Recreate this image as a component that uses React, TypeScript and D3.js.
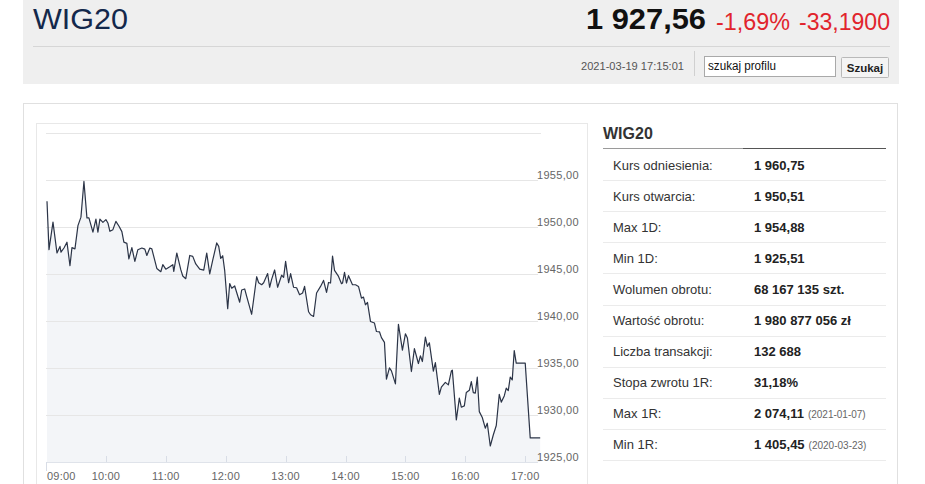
import React from "react";
import * as d3 from "d3";

// minutes after 09:00 and index level
const minutesFromOpen = [
  1, 3, 7, 11, 14, 15, 18, 21, 24, 26, 29, 32, 35, 38, 41, 43, 47, 50, 52, 54,
  57, 60, 62, 64, 67, 70, 73, 76, 78, 81, 83, 86, 89, 92, 96, 99, 101, 104, 106, 111,
  115, 117, 120, 124, 127, 128, 131, 135, 137, 140, 144, 147, 150, 154, 158, 161, 164, 167, 171, 173,
  175, 177, 179, 182, 184, 186, 189, 194, 196, 199, 201, 206, 211, 213, 216, 218, 222, 224, 226, 229,
  232, 236, 238, 240, 243, 245, 248, 251, 254, 257, 259, 263, 265, 268, 271, 275, 278, 281, 283, 285,
  287, 289, 293, 296, 297, 299, 301, 303, 307, 310, 313, 316, 318, 320, 322, 325, 329, 331, 334, 336,
  339, 341, 344, 346, 350, 353, 357, 360, 362, 366, 369, 373, 375, 377, 380, 382, 384, 388, 390, 394,
  396, 400, 403, 406, 407, 411, 414, 416, 419, 421, 424, 426, 428, 430, 432, 434, 437, 440, 442, 445,
  448, 451, 454, 456, 459, 461, 463, 465, 467, 469, 471, 480, 485, 495,
];
const prices = [
  1952.69, 1947.55, 1950.48, 1947.2, 1947.9, 1947.29, 1947.73, 1948.35, 1945.85, 1947.77,
  1947.64, 1950.11, 1951.01, 1954.8, 1950.93, 1950.93, 1949.41, 1950.8, 1949.41, 1950.8,
  1950.45, 1950.74, 1950.39, 1949.5, 1949.68, 1950.56, 1950.07, 1949.47, 1948.35, 1948.22,
  1946.57, 1947.77, 1946.31, 1947.55, 1947.73, 1947.61, 1946.94, 1947.73, 1947.64, 1945.56,
  1945.21, 1945.96, 1945.48, 1945.74, 1945.96, 1945.24, 1947.2, 1945.43, 1944.76, 1944.47,
  1946.94, 1946.84, 1946.04, 1945.48, 1945.39, 1947.2, 1944.98, 1946.44, 1948.27, 1947.9,
  1946.62, 1946.91, 1945.32, 1941.28, 1943.96, 1943.46, 1943.7, 1941.97, 1943.27, 1943.38,
  1942.59, 1940.69, 1944.68, 1944.04, 1943.83, 1944.04, 1945.02, 1943.56, 1944.4, 1945.4,
  1943.56, 1944.84, 1944.61, 1946.31, 1944.04, 1945.02, 1943.56, 1943.51, 1942.77, 1942.95,
  1943.65, 1940.96, 1940.64, 1940.46, 1942.95, 1943.65, 1944.29, 1943.01, 1944.07, 1944.01,
  1946.88, 1945.35, 1944.71, 1943.94, 1944.01, 1945.14, 1944.01, 1944.79, 1943.83, 1943.83,
  1943.65, 1942.41, 1942.52, 1941.7, 1941.95, 1939.93, 1939.76, 1938.86, 1938.83, 1938.21,
  1937.71, 1933.8, 1935.0, 1934.68, 1933.3, 1939.63, 1936.88, 1938.62, 1938.16, 1934.61,
  1937.04, 1935.46, 1936.28, 1935.67, 1938.27, 1937.27, 1937.66, 1934.66, 1935.56, 1932.18,
  1932.95, 1933.46, 1933.19, 1934.66, 1934.76, 1929.47, 1931.78, 1930.82, 1930.96, 1932.39,
  1932.61, 1933.54, 1932.37, 1932.31, 1934.01, 1930.35, 1929.73, 1928.59, 1929.12, 1926.7,
  1927.87, 1928.88, 1932.18, 1931.36, 1932.02, 1932.84, 1932.59, 1934.01, 1933.72, 1936.84,
  1935.5, 1935.5, 1927.56, 1927.56,
];

const hourTicks = [0, 60, 120, 180, 240, 300, 360, 420, 480];
const hourLabels = ["09:00", "10:00", "11:00", "12:00", "13:00", "14:00", "15:00", "16:00", "17:00"];
const gridValues = [1925, 1930, 1935, 1940, 1945, 1950, 1955, 1960];
const priceLabels = ["1925,00", "1930,00", "1935,00", "1940,00", "1945,00", "1950,00", "1955,00", ""];

const statLabels = [
  "Kurs odniesienia:", "Kurs otwarcia:", "Max 1D:", "Min 1D:", "Wolumen obrotu:",
  "Wartość obrotu:", "Liczba transakcji:", "Stopa zwrotu 1R:", "Max 1R:", "Min 1R:",
];
const statValues = [
  "1 960,75", "1 950,51", "1 954,88", "1 925,51", "68 167 135 szt.",
  "1 980 877 056 zł", "132 688", "31,18%", "2 074,11", "1 405,45",
];
const statNotes = ["", "", "", "", "", "", "", "", "(2021-01-07)", "(2020-03-23)"];

const headerName = "WIG20";
const headerPrice = "1 927,56";
const headerPct = "-1,69%";
const headerChange = "-33,1900";
const headerTime = "2021-03-19 17:15:01";

const FONT = "'Liberation Sans', Arial, sans-serif";
const NARROW = "'Liberation Sans Narrow', 'Liberation Sans', Arial, sans-serif";

export default function App() {
  const x = d3.scaleLinear().domain([0, 495]).range([46, 540.2]);
  const y = d3.scaleLinear().domain([1925, 1960]).range([462, 132.5]);
  const pts: [number, number][] = minutesFromOpen.map((m, i) => [m, prices[i]]);
  const linePath = d3
    .line<[number, number]>()
    .x((d) => x(d[0]))
    .y((d) => y(d[1]))(pts) as string;
  const areaPath = d3
    .area<[number, number]>()
    .x((d) => x(d[0]))
    .y0(y(1925))
    .y1((d) => y(d[1]))(pts) as string;
  const crisp = (v: number) => Math.round(v) + 0.5;

  const rowTop = 149;
  const rowH = 31.1;

  return (
    <svg
      width={925}
      height={484}
      style={{ position: "absolute", left: 0, top: 0, background: "#fff" }}
      fontFamily={FONT}
    >
      {/* header band */}
      <rect x={23} y={0} width={876} height={84} fill="#efefef" />
      <text x={33} y={29} fontFamily={NARROW} fontSize={29} fill="#13284b" textLength={95} lengthAdjust="spacingAndGlyphs">
        {headerName}
      </text>
      <text x={586} y={29} fontFamily={NARROW} fontSize={30} fontWeight="bold" fill="#111" textLength={120} lengthAdjust="spacingAndGlyphs">
        {headerPrice}
      </text>
      <text x={716} y={30} fontFamily={NARROW} fontSize={23} fill="#e1242c" textLength={74} lengthAdjust="spacingAndGlyphs">
        {headerPct}
      </text>
      <text x={799} y={30} fontFamily={NARROW} fontSize={23} fill="#e1242c" textLength={91} lengthAdjust="spacingAndGlyphs">
        {headerChange}
      </text>
      <line x1={33} x2={890} y1={46.5} y2={46.5} stroke="#d6d6d6" />
      <text x={581} y={70} fontFamily={NARROW} fontSize={11} fill="#555" textLength={103} lengthAdjust="spacingAndGlyphs">
        {headerTime}
      </text>
      <line x1={694.5} x2={694.5} y1={51} y2={76} stroke="#d0d0d0" />
      <rect x={704.5} y={56.5} width={131} height={20} fill="#fff" stroke="#a9a9a9" />
      <text x={708} y={70} fontFamily={NARROW} fontSize={12} fill="#111" textLength={68} lengthAdjust="spacingAndGlyphs">
        szukaj profilu
      </text>
      <rect x={841.5} y={57.5} width={47} height={20} fill="#f4f4f4" stroke="#b9b9b9" rx={1} />
      <text x={865} y={71.5} fontFamily={NARROW} fontSize={11.5} fontWeight="bold" fill="#222" textAnchor="middle">
        Szukaj
      </text>

      {/* main panel */}
      <rect x={23.5} y={103.5} width={874} height={400} fill="#fff" stroke="#e0e0e0" />
      {/* chart box */}
      <rect x={36.5} y={123.5} width={551} height={380} fill="#fff" stroke="#e8e8e8" />

      {/* plot */}
      <path d={areaPath} fill="#f3f5f8" />
      {gridValues.map((v, i) => (
        <g key={v}>
          <line x1={46} x2={i === gridValues.length - 1 ? 541 : 538} y1={crisp(y(v))} y2={crisp(y(v))} stroke={i === 0 ? "#dfe3ea" : "#e6e6e6"} />
          {priceLabels[i] && (
            <text x={537} y={Math.round(y(v)) - 1} fontSize={11} fill="#666" letterSpacing={0.3}>
              {priceLabels[i]}
            </text>
          )}
        </g>
      ))}
      <path d={linePath} fill="none" stroke="#2b3447" strokeWidth={1.2} strokeLinejoin="round" />
      {hourTicks.map((t, i) => (
        <g key={t}>
          <line
            x1={crisp(x(t))}
            x2={crisp(x(t))}
            y1={i === 0 ? 462 : 456}
            y2={i === 0 ? 471 : 462}
            stroke="#d8dde6"
          />
          <text
            x={i === 0 ? x(t) + 1 : x(t)}
            y={480}
            fontSize={11}
            fill="#666"
            textAnchor={i === 0 ? "start" : "middle"}
            letterSpacing={0.2}
          >
            {hourLabels[i]}
          </text>
        </g>
      ))}

      {/* stats table */}
      <text x={603} y={139} fontSize={16} fontWeight="bold" fill="#333">
        {headerName}
      </text>
      <line x1={603} x2={743} y1={148.5} y2={148.5} stroke="#9a9a9a" />
      <line x1={743} x2={886} y1={148.5} y2={148.5} stroke="#555" />
      {statLabels.map((lab, i) => {
        const top = rowTop + i * rowH;
        return (
          <g key={lab}>
            <text x={613} y={top + 20.5} fontSize={13} fill="#333">
              {lab}
            </text>
            <text x={754} y={top + 20.5} fontSize={13} fontWeight="bold" fill="#222">
              {statValues[i]}
              {statNotes[i] && (
                <tspan fontSize={10} fontWeight="normal" fill="#666" dx={4}>
                  {statNotes[i]}
                </tspan>
              )}
            </text>
            <line x1={603} x2={886} y1={crisp(top + rowH)} y2={crisp(top + rowH)} stroke="#ebebeb" />
          </g>
        );
      })}
    </svg>
  );
}
